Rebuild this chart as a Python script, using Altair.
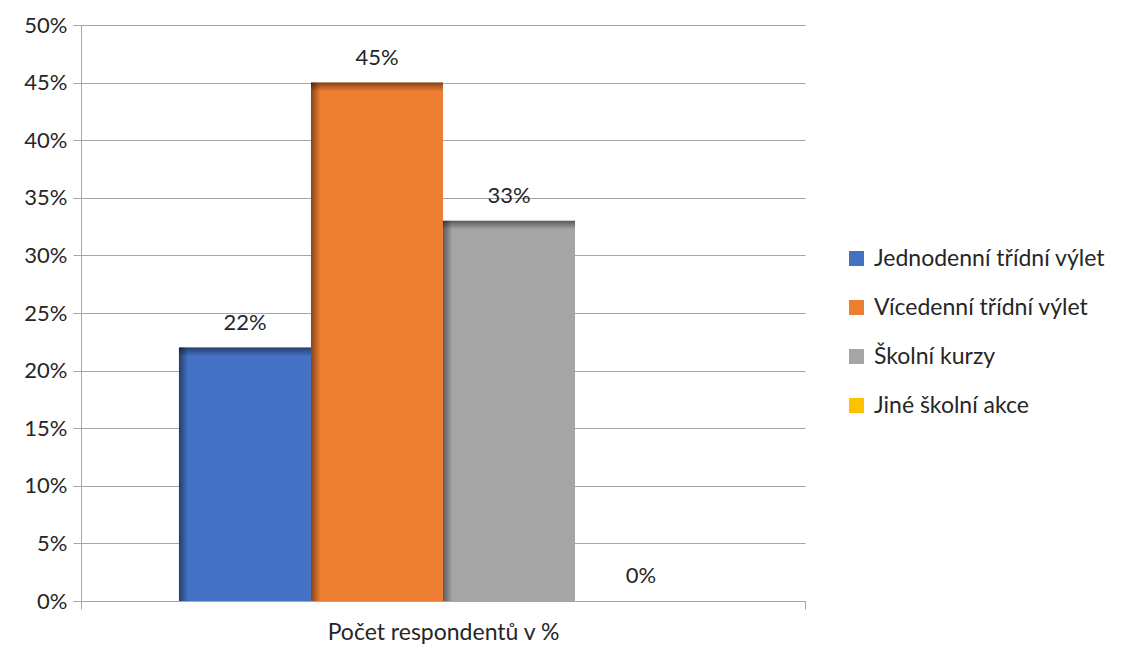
import altair as alt
import pandas as pd

# Survey answers: share of respondents per type of school trip
series = ["Jednodenní třídní výlet", "Vícedenní třídní výlet", "Školní kurzy", "Jiné školní akce"]
values = [22, 45, 33, 0]
colors = ["#4472C4", "#ED7D31", "#A5A5A5", "#FFC000"]
category = "Počet respondentů v %"
y_ticks = list(range(0, 51, 5))

df = pd.DataFrame({"cat": [category] * len(series), "series": series, "value": values})

FONT = "Lato"
FS = 22        # numbers
FS_TXT = 23    # category and legend labels
TEXT = "#262626"
GRID = "#a6a6a6"

x_enc = alt.X(
    "cat:N",
    scale=alt.Scale(paddingInner=0, paddingOuter=0),
    axis=alt.Axis(
        title=None, labelAngle=0, tickBand="extent", tickSize=8, labelLimit=0,
        labelPadding=12, labelFontSize=FS_TXT, labelColor=TEXT, labelFont=FONT,
        domainColor=GRID, tickColor=GRID,
    ),
)
xoff_enc = alt.XOffset(
    "series:N", sort=series,
    scale=alt.Scale(domain=series, paddingInner=0, paddingOuter=0.742),
)
y_enc = alt.Y(
    "value:Q",
    scale=alt.Scale(domain=[0, 50]),
    axis=alt.Axis(
        title=None, values=y_ticks, labelExpr="datum.value + '%'",
        tickSize=8, labelPadding=6, labelFontSize=FS, labelColor=TEXT, labelFont=FONT,
        domainColor=GRID, tickColor=GRID, gridColor=GRID, grid=True,
    ),
)

base = alt.Chart(df)

bars = base.mark_bar().encode(
    x=x_enc, xOffset=xoff_enc, y=y_enc,
    color=alt.Color(
        "series:N", sort=series,
        scale=alt.Scale(domain=series, range=colors),
        legend=alt.Legend(
            orient="none", legendX=764, legendY=222, title=None,
            symbolType="square", symbolSize=225, symbolStrokeWidth=0,
            labelFontSize=FS_TXT, labelFont=FONT, labelColor=TEXT, labelLimit=0,
            labelOffset=6, rowPadding=25, padding=0,
        ),
    ),
)

# inner shadow along the left edge of each bar
left_shade = base.mark_bar(
    color=alt.Gradient(
        gradient="linear", x1=0, y1=0, x2=1, y2=0,
        stops=[
            alt.GradientStop(color="rgba(0,0,0,0.45)", offset=0),
            alt.GradientStop(color="rgba(0,0,0,0)", offset=0.07),
            alt.GradientStop(color="rgba(0,0,0,0)", offset=1),
        ],
    )
).encode(x=x_enc, xOffset=xoff_enc, y=y_enc)

# inner shadow along the top edge of each bar
top_shade = base.transform_filter("datum.value > 0").transform_calculate(
    edge="datum.value - 0.75"
).mark_bar(
    color=alt.Gradient(
        gradient="linear", x1=0, y1=0, x2=0, y2=1,
        stops=[
            alt.GradientStop(color="rgba(0,0,0,0.45)", offset=0),
            alt.GradientStop(color="rgba(0,0,0,0)", offset=1),
        ],
    )
).encode(x=x_enc, xOffset=xoff_enc, y=y_enc, y2="edge:Q")

labels = base.transform_calculate(
    label="datum.value + '%'"
).mark_text(
    dy=-18, baseline="alphabetic", fontSize=FS, font=FONT, color=TEXT
).encode(x=x_enc, xOffset=xoff_enc, y=y_enc, text="label:N")

chart = (
    alt.layer(bars, left_shade, top_shade, labels)
    .properties(
        width=724, height=576, autosize="none",
        padding={"left": 81, "top": 25, "right": 316, "bottom": 47},
        background="white",
    )
    .configure_view(stroke=None)
)

chart.save("out.html", embed_options={"renderer": "svg", "actions": False})
